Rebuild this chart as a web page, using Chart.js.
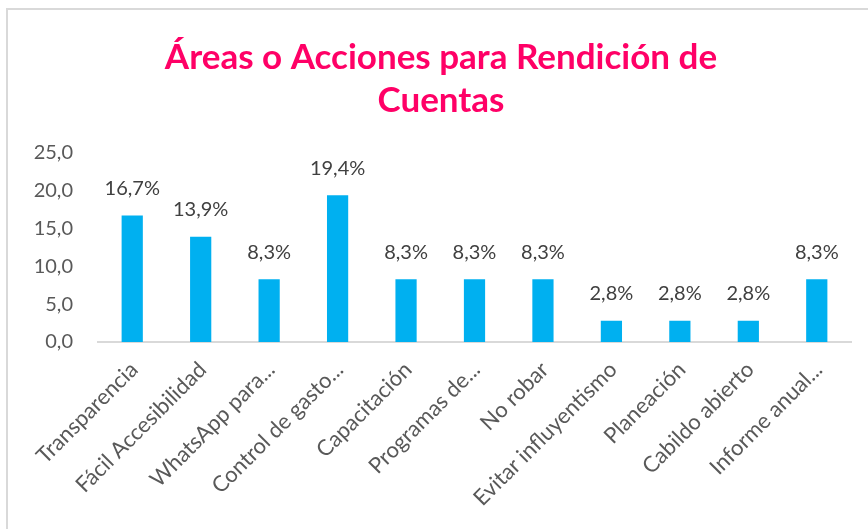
<!DOCTYPE html>
<html>
<head>
<meta charset="utf-8">
<script src="https://cdn.jsdelivr.net/npm/chart.js@4"></script>
<style>
    html, body { margin: 0; padding: 0; background: #ffffff; overflow: hidden; }
    #frame {
        position: absolute; left: 6px; top: 8px; width: 900px; height: 600px;
        border: 2px solid #d9d9d9; box-sizing: border-box;
    }
    #wrap { position: absolute; left: 0; top: 0; width: 868px; height: 529px; }
</style>
</head>
<body>
<div id="frame"></div>
<div id="wrap"><canvas id="chart"></canvas></div>
<script>
// datos del grafico
var categorias = [
    "Transparencia",
    "Fácil Accesibilidad",
    "WhatsApp para...",
    "Control de gasto...",
    "Capacitación",
    "Programas de...",
    "No robar",
    "Evitar influyentismo",
    "Planeación",
    "Cabildo abierto",
    "Informe anual...",
];
var porcentajes = [16.7, 13.9, 8.3, 19.4, 8.3, 8.3, 8.3, 2.8, 2.8, 2.8, 8.3];
var ticksY = [0, 5, 10, 15, 20, 25];

function coma(v) {
    return v.toFixed(1).replace(".", ",");
}

// etiquetas encima de las barras
var etiquetas = {
    id: "etiquetas",
    afterDatasetsDraw: function (chart) {
        var ctx = chart.ctx;
        var meta = chart.getDatasetMeta(0);
        ctx.save();
        ctx.font = "20px Lato";
        ctx.fillStyle = "#404040";
        ctx.textAlign = "center";
        ctx.textBaseline = "middle";
        meta.data.forEach(function (bar, i) {
            ctx.fillText(coma(porcentajes[i]) + "%", bar.x, bar.y - 27);
        });
        ctx.restore();
    },
};

// categorias giradas 45 grados (pueden quedar bajo el eje Y, como en Excel)
var categoriasGiradas = {
    id: "categoriasGiradas",
    afterDraw: function (chart) {
        var ctx = chart.ctx;
        var escala = chart.scales.x;
        ctx.save();
        ctx.font = "22px Lato";
        ctx.fillStyle = "#595959";
        ctx.textAlign = "right";
        ctx.textBaseline = "middle";
        categorias.forEach(function (texto, i) {
            var x = escala.getPixelForValue(i);
            ctx.save();
            ctx.translate(x + 2, escala.top + 24);
            ctx.rotate(-Math.PI / 4);
            ctx.fillText(texto, 0, 0);
            ctx.restore();
        });
        ctx.restore();
    },
};

var ctx = document.getElementById("chart").getContext("2d");
var grafico = new Chart(ctx, {
    type: "bar",
    data: {
        labels: categorias,
        datasets: [
            {
                data: porcentajes,
                backgroundColor: "#00b0f0",
                borderWidth: 0,
                categoryPercentage: 1,
                barPercentage: 0.31,
            },
        ],
    },
    options: {
        responsive: true,
        maintainAspectRatio: false,
        animation: false,
        layout: {
            padding: { left: 31, right: 17, top: 20, bottom: 187 },
        },
        plugins: {
            legend: { display: false },
            tooltip: { enabled: false },
            title: {
                display: true,
                text: ["Áreas o Acciones para Rendición de", "Cuentas"],
                color: "#ff0066",
                font: { size: 35, weight: "bold", family: "Lato", lineHeight: 1.24 },
                padding: { top: 16, bottom: 30 },
            },
        },
        scales: {
            y: {
                min: 0,
                max: 25,
                afterBuildTicks: function (scale) {
                    scale.ticks = ticksY.map(function (v) { return { value: v }; });
                },
                afterFit: function (scale) {
                    // ancho fijo del eje: etiquetas terminan 25px antes del area
                    scale.width = 67;
                },
                grid: { display: false, drawTicks: false },
                border: { display: false },
                ticks: {
                    color: "#595959",
                    padding: 25,
                    font: { size: 20, family: "Lato" },
                    callback: function (v) { return coma(v); },
                },
            },
            x: {
                grid: { display: false, drawTicks: false },
                border: { display: true, color: "#d9d9d9", width: 2 },
                ticks: { display: false },
            },
        },
    },
    plugins: [etiquetas, categoriasGiradas],
});
</script>
</body>
</html>
